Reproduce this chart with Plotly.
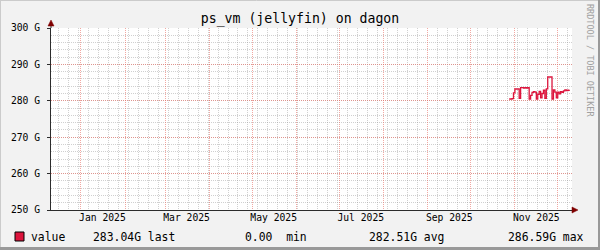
import plotly.graph_objects as go

# ---------------- data ----------------
dates = [
    "2025-10-28", "2025-10-29", "2025-10-30", "2025-10-31", "2025-11-01", "2025-11-02",
    "2025-11-03", "2025-11-04", "2025-11-05", "2025-11-06", "2025-11-07", "2025-11-08",
    "2025-11-09", "2025-11-10", "2025-11-11", "2025-11-12", "2025-11-13", "2025-11-14",
    "2025-11-15", "2025-11-16", "2025-11-17", "2025-11-18", "2025-11-19", "2025-11-20",
    "2025-11-21", "2025-11-22", "2025-11-23", "2025-11-24", "2025-11-25", "2025-11-26",
    "2025-11-27", "2025-11-28", "2025-11-29", "2025-11-30", "2025-12-01", "2025-12-02",
    "2025-12-03", "2025-12-04", "2025-12-05", "2025-12-06", "2025-12-07", "2025-12-08",
    "2025-12-09",
]
values_g = [
    280.5, 280.5, 280.6, 282.2, 283.3, 283.2,
    283.3, 280.7, 283.6, 283.6, 283.5, 283.6,
    283.5, 283.6, 280.5, 281.5, 282.3, 282.5,
    282.4, 280.5, 281.8, 282.6, 280.8, 282.0,
    282.9, 280.7, 283.3, 286.6, 286.5, 286.6,
    280.5, 283.0, 282.4, 280.8, 282.4, 281.9,
    282.5, 282.3, 282.7, 283.0, 282.8, 282.9,
    283.04,
]
x_label_vals = ["2025-01-16", "2025-03-16", "2025-05-16", "2025-07-16", "2025-09-16", "2025-11-16"]
x_label_text = ["Jan 2025", "Mar 2025", "May 2025", "Jul 2025", "Sep 2025", "Nov 2025"]
y_ticks = [250, 260, 270, 280, 290, 300]
series_name = "value"
stat_last = "283.04G last"
stat_min = "0.00  min"
stat_avg = "282.51G avg"
stat_max = "286.59G max"
title_text = "ps_vm (jellyfin) on dagon"
watermark = "RRDTOOL / TOBI OETIKER"
x_range = ["2024-12-11 00:00", "2025-12-11 00:00"]
y_range = [250, 300]

# ---------------- layout geometry ----------------
W, H = 600, 250
L, R, T, B = 51, 28, 28, 40
PW, PH = W - L - R, H - T - B
MONO = "DejaVu Sans Mono"
LINE_COLOR = "#dc143c"
MGRID = "rgba(232,110,100,0.6)"
GRID = "rgba(150,150,150,0.45)"


def fx(px):
    return (px - L) / PW


def fy(py):
    return (H - B - py) / PH


fig = go.Figure()
fig.add_trace(go.Scatter(
    x=dates, y=values_g, mode="lines", name=series_name,
    line=dict(color=LINE_COLOR, width=1.3, shape="hv"),
    showlegend=False, hoverinfo="skip",
))
# invisible trace to host the label axis
fig.add_trace(go.Scatter(x=x_range, y=[None, None], xaxis="x2", yaxis="y",
                         showlegend=False, hoverinfo="skip"))

fig.update_layout(
    width=W, height=H,
    margin=dict(l=L, r=R, t=T, b=B, pad=0),
    paper_bgcolor="#f2f2f2",
    plot_bgcolor="#ffffff",
    title=dict(text=title_text, x=0.5, xref="container", xanchor="center",
               y=1 - 18 / H, yref="container", yanchor="middle",
               font=dict(family=MONO, size=13.2, color="#000000")),
    xaxis=dict(
        type="date", range=x_range,
        tick0="2025-01-01", dtick="M1",
        showticklabels=False,
        showgrid=True, gridcolor=MGRID, griddash="1px,1px", gridwidth=1,
        ticks="", showline=True, linecolor="#2c2c2c", linewidth=1,
        zeroline=False,
        minor=dict(dtick=7 * 86400000, tick0="2024-12-16", showgrid=True,
                   gridcolor=GRID, griddash="1px,1px", gridwidth=1, ticks=""),
    ),
    xaxis2=dict(
        type="date", range=x_range, overlaying="x", anchor="y", side="bottom",
        tickmode="array", tickvals=x_label_vals, ticktext=x_label_text,
        showgrid=False, showline=False, ticks="", zeroline=False,
        tickfont=dict(family=MONO, size=9.7, color="#000000"),
    ),
    yaxis=dict(
        range=y_range, tickmode="array", tickvals=y_ticks,
        ticktext=[f"{v} G" for v in y_ticks],
        showgrid=True, gridcolor=MGRID, griddash="1px,1px", gridwidth=1,
        showline=True, linecolor="#2c2c2c", linewidth=1,
        ticks="outside", ticklen=3, tickcolor="#2c2c2c",
        ticklabelstandoff=5,
        zeroline=False,
        tickfont=dict(family=MONO, size=9.7, color="#000000"),
        minor=dict(dtick=2, tick0=250, showgrid=True, gridcolor=GRID,
                   griddash="1px,1px", gridwidth=1, ticks=""),
    ),
)

shapes = []
# frame of the image (3D shading)
shapes.append(dict(type="line", xref="paper", yref="paper", x0=fx(0), x1=fx(W), y0=fy(0.5), y1=fy(0.5),
                   line=dict(color="#cbcbcb", width=1)))
shapes.append(dict(type="line", xref="paper", yref="paper", x0=fx(0.5), x1=fx(0.5), y0=fy(0), y1=fy(H),
                   line=dict(color="#cbcbcb", width=1)))
shapes.append(dict(type="line", xref="paper", yref="paper", x0=fx(0), x1=fx(W), y0=fy(H - 1.5), y1=fy(H - 1.5),
                   line=dict(color="#999999", width=3)))
shapes.append(dict(type="line", xref="paper", yref="paper", x0=fx(W - 1), x1=fx(W - 1), y0=fy(0), y1=fy(H),
                   line=dict(color="#999999", width=2)))
# axis extensions and arrow heads
shapes.append(dict(type="line", xref="paper", yref="paper", x0=0, x1=0, y0=1, y1=fy(24),
                   line=dict(color="#2c2c2c", width=1)))
shapes.append(dict(type="path", xref="paper", yref="paper",
                   path=f"M {fx(48)} {fy(26)} L {fx(51)} {fy(20)} L {fx(54)} {fy(26)} Z",
                   fillcolor="#7f0000", line=dict(color="#7f0000", width=0.5)))
shapes.append(dict(type="path", xref="paper", yref="paper",
                   path=f"M {fx(572)} {fy(207)} L {fx(578)} {fy(210)} L {fx(572)} {fy(213)} Z",
                   fillcolor="#7f0000", line=dict(color="#7f0000", width=0.5)))
# legend swatch
shapes.append(dict(type="rect", xref="paper", yref="paper",
                   x0=fx(15), x1=fx(24), y0=fy(241), y1=fy(232),
                   fillcolor=LINE_COLOR, line=dict(color="#000000", width=1)))
fig.update_layout(shapes=shapes)

ann_font = dict(family=MONO, size=11.4, color="#000000")
annotations = []
for px, txt in [(29, series_name), (91, stat_last), (243, stat_min), (367, stat_avg), (506, stat_max)]:
    annotations.append(dict(text=txt, xref="paper", yref="paper", x=fx(px), y=fy(236.5),
                            xanchor="left", yanchor="middle", showarrow=False, font=ann_font))
annotations.append(dict(text=watermark, xref="paper", yref="paper", x=fx(590), y=fy(60),
                        xanchor="center", yanchor="middle", textangle=90, showarrow=False,
                        font=dict(family=MONO, size=8.5, color="#a0a0a0")))
fig.update_layout(annotations=annotations)

fig.write_html("out.html")
